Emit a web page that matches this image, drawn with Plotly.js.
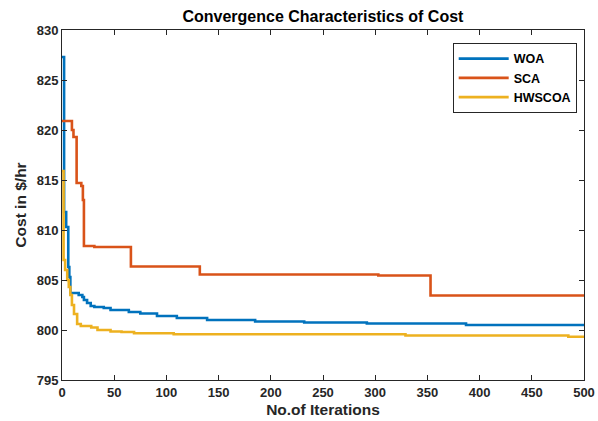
<!DOCTYPE html>
<html>
<head>
<meta charset="utf-8">
<script src="https://cdn.plot.ly/plotly-3.0.1.min.js"></script>
<style>html,body{margin:0;padding:0;background:#fff;}#chart{width:598px;height:421px;}</style>
</head>
<body>
<div id="chart"></div>
<script>
// Iteration points where each curve changes (stepwise best-so-far cost)
const woaIter = [0, 2, 4, 6, 7, 8, 16, 19.5, 21, 24, 27.5, 31, 40, 46.5, 64, 75, 91, 110, 139, 185, 232, 292, 387, 500];
const woaCost = [827.3, 811.8, 810.3, 806.3, 805.3, 803.7, 803.5, 803.3, 803.0, 802.7, 802.4, 802.3, 802.2, 802.0, 801.8, 801.65, 801.4, 801.2, 801.0, 800.85, 800.75, 800.65, 800.5, 800.5];

const scaIter = [0, 9.5, 11, 14, 18.5, 20, 21, 31, 66, 132, 303, 353, 500];
const scaCost = [820.9, 820.0, 819.3, 814.7, 814.4, 813.0, 808.4, 808.3, 806.35, 805.55, 805.45, 803.45, 803.45];

const hwIter = [0, 1.5, 3, 5, 6.5, 8, 9.5, 11.5, 14.5, 18, 28, 34, 46.5, 57, 69, 107, 329, 485, 500];
const hwCost = [815.9, 807.0, 806.0, 805.0, 804.3, 803.5, 802.5, 801.6, 800.6, 800.4, 800.25, 800.0, 799.85, 799.8, 799.67, 799.57, 799.45, 799.33, 799.33];

const seriesNames = ['WOA', 'SCA', 'HWSCOA'];
const xTicks = [0, 50, 100, 150, 200, 250, 300, 350, 400, 450, 500];
const yTicks = [795, 800, 805, 810, 815, 820, 825, 830];

const colors = ['#0072BD', '#D95319', '#EDB120'];
const fontFam = 'Liberation Sans, Arial, Helvetica, sans-serif';
const dark = '#262626';

const data = [
  {x: woaIter, y: woaCost, name: seriesNames[0]},
  {x: scaIter, y: scaCost, name: seriesNames[1]},
  {x: hwIter, y: hwCost, name: seriesNames[2]}
].map((t, i) => Object.assign(t, {
  type: 'scatter', mode: 'lines',
  line: {color: colors[i], width: 2.6, shape: 'hv'}
}));

const axisCommon = {
  showline: true, linecolor: dark, linewidth: 1, mirror: 'ticks',
  ticks: 'inside', ticklen: 5, tickcolor: dark, tickwidth: 1,
  showgrid: false, zeroline: false,
  tickfont: {family: fontFam, size: 13, color: dark, weight: 'bold'}
};

const layout = {
  width: 598, height: 421,
  margin: {l: 62, r: 14, t: 30, b: 41},
  paper_bgcolor: '#fff', plot_bgcolor: '#fff',
  title: {text: 'Convergence Characteristics of Cost', x: 0.54, xanchor: 'center', y: 0.962, yanchor: 'middle',
    font: {family: fontFam, size: 16, color: '#000', weight: 'bold'}},
  xaxis: Object.assign({}, axisCommon, {
    range: [0, 500], tickvals: xTicks, ticktext: xTicks.map(String),
    title: {text: 'No.of Iterations', standoff: 5, font: {family: fontFam, size: 15.5, color: dark, weight: 'bold'}}
  }),
  yaxis: Object.assign({}, axisCommon, {
    range: [795, 830], tickvals: yTicks, ticktext: yTicks.map(String),
    title: {text: 'Cost in $/hr', standoff: 6, font: {family: fontFam, size: 15.5, color: dark, weight: 'bold'}}
  }),
  legend: {
    x: 0.986, y: 0.963, xanchor: 'right', yanchor: 'top',
    bgcolor: '#fff', bordercolor: dark, borderwidth: 1,
    font: {family: fontFam, size: 12.5, color: '#000', weight: 'bold'},
    itemwidth: 50,
    tracegroupgap: 0
  },
  showlegend: true
};

Plotly.newPlot('chart', data, layout, {displayModeBar: false, staticPlot: true});
</script>
</body>
</html>
